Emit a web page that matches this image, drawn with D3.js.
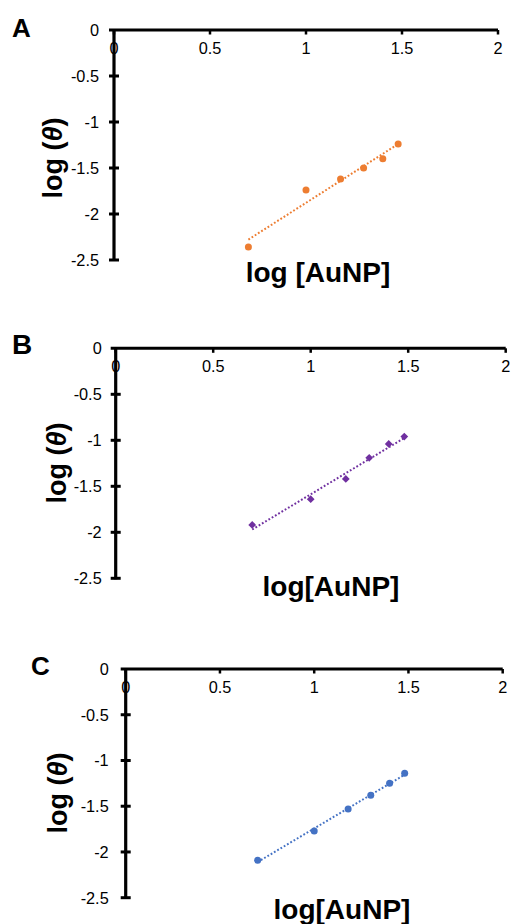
<!DOCTYPE html>
<html>
<head>
<meta charset="utf-8">
<script src="https://cdn.jsdelivr.net/npm/d3@7/dist/d3.min.js"></script>
<style>
  body { margin: 0; background: #fff; }
  svg { display: block; font-family: "Liberation Sans", Arial, sans-serif; }
</style>
</head>
<body>
<svg width="511" height="924"></svg>
<script>
// data
const logAuNP = [0.70, 1.00, 1.18, 1.30, 1.40, 1.48];
const thetaA = [-2.36, -1.74, -1.62, -1.50, -1.40, -1.24];
const thetaB = [-1.92, -1.64, -1.42, -1.19, -1.04, -0.96];
const thetaC = [-2.09, -1.77, -1.53, -1.38, -1.25, -1.14];
const xTicks = [0, 0.5, 1, 1.5, 2];
const yTicks = [0, -0.5, -1, -1.5, -2, -2.5];

const svg = d3.select("svg");

// layout of the three panels
const panels = [
    { id: "A", ys: thetaA, color: "#ED7D31", marker: "circle", xTitle: "log [AuNP]",
      x0: 114, x1: 498, y0: 30, y1: 260, labX: 12, labY: 37, labSize: 26,
      yTitleX: 53, yTitleY: 158, xTitleX: 318, xTitleY: 282, yLabGap: 15 },
    { id: "B", ys: thetaB, color: "#7030A0", marker: "diamond", xTitle: "log[AuNP]",
      x0: 115.7, x1: 505.7, y0: 348.3, y1: 578.3, labX: 12, labY: 354, labSize: 28,
      yTitleX: 57, yTitleY: 463, xTitleX: 331, xTitleY: 596, yLabGap: 14 },
    { id: "C", ys: thetaC, color: "#4472C4", marker: "circle", xTitle: "log[AuNP]",
      x0: 125.7, x1: 502.7, y0: 669, y1: 897.7, labX: 31, labY: 675, labSize: 26,
      yTitleX: 58, yTitleY: 793, xTitleX: 342, xTitleY: 919, yLabGap: 17 }
];

//least squares trend line
function fitLine(xs, ys) {
    const mx = d3.mean(xs), my = d3.mean(ys);
    let sxy = 0, sxx = 0;
    xs.forEach((x, i) => {
        sxy += (x - mx) * (ys[i] - my);
        sxx += (x - mx) * (x - mx);
    });
    const slope = sxy / sxx;
    return x => my + slope * (x - mx);
}

panels.forEach(p => drawPanel(p));

function drawPanel(p) {
    const g = svg.append("g").attr("id", `panel${p.id}`);
    const x = d3.scaleLinear().domain([0, 2]).range([p.x0, p.x1]);
    const y = d3.scaleLinear().domain([0, -2.5]).range([p.y0, p.y1]);

    // x axis along the top (y = 0)
    g.append("line")
        .attr("x1", p.x0 - 5).attr("x2", x(2))
        .attr("y1", p.y0).attr("y2", p.y0)
        .attr("stroke", "#000").attr("stroke-width", 3);
    g.selectAll(".xtick").data(xTicks).enter().append("line")
        .attr("class", "xtick")
        .attr("x1", d => x(d)).attr("x2", d => x(d))
        .attr("y1", p.y0).attr("y2", p.y0 + 4.5)
        .attr("stroke", "#000").attr("stroke-width", 2.5);
    g.selectAll(".xlab").data(xTicks).enter().append("text")
        .attr("class", "xlab")
        .attr("x", d => x(d)).attr("y", p.y0 + 24)
        .attr("text-anchor", "middle")
        .attr("font-size", 16.3)
        .text(d => d);

    // y axis
    g.append("line")
        .attr("x1", p.x0).attr("x2", p.x0)
        .attr("y1", p.y0).attr("y2", p.y1 + 1)
        .attr("stroke", "#000").attr("stroke-width", 3.2);
    g.selectAll(".ytick").data(yTicks.slice(1)).enter().append("line")
        .attr("class", "ytick")
        .attr("x1", p.x0 - 5).attr("x2", p.x0 + 5)
        .attr("y1", d => y(d)).attr("y2", d => y(d))
        .attr("stroke", "#000").attr("stroke-width", 3);
    g.selectAll(".ylab").data(yTicks).enter().append("text")
        .attr("class", "ylab")
        .attr("x", p.x0 - p.yLabGap).attr("y", d => y(d))
        .attr("dy", "0.36em")
        .attr("text-anchor", "end")
        .attr("font-size", 16.3)
        .text(d => d);

    // dotted trend line
    const f = fitLine(logAuNP, p.ys);
    const xExt = d3.extent(logAuNP);
    g.append("line")
        .attr("x1", x(xExt[0])).attr("y1", y(f(xExt[0])))
        .attr("x2", x(xExt[1])).attr("y2", y(f(xExt[1])))
        .attr("stroke", p.color)
        .attr("stroke-width", 2)
        .attr("stroke-dasharray", "1.8 2");

    // markers
    const pts = logAuNP.map((v, i) => [v, p.ys[i]]);
    if (p.marker === "circle") {
        g.selectAll(".pt").data(pts).enter().append("circle")
            .attr("class", "pt")
            .attr("cx", d => x(d[0])).attr("cy", d => y(d[1]))
            .attr("r", 3.5)
            .attr("fill", p.color);
    } else {
        const sym = d3.symbol().type(d3.symbolSquare).size(30);
        g.selectAll(".pt").data(pts).enter().append("path")
            .attr("class", "pt")
            .attr("d", sym)
            .attr("transform", d => `translate(${x(d[0])},${y(d[1])}) rotate(45)`)
            .attr("fill", p.color);
    }

    // titles
    const yt = g.append("text")
        .attr("transform", `translate(${p.yTitleX},${p.yTitleY}) rotate(-90)`)
        .attr("text-anchor", "middle")
        .attr("dy", "0.35em")
        .attr("font-size", 27)
        .attr("font-weight", "bold");
    yt.append("tspan").text("log (");
    yt.append("tspan").attr("font-style", "italic").text("θ");
    yt.append("tspan").text(")");

    g.append("text")
        .attr("x", p.xTitleX).attr("y", p.xTitleY)
        .attr("text-anchor", "middle")
        .attr("font-size", 28)
        .attr("font-weight", "bold")
        .text(p.xTitle);

    g.append("text")
        .attr("x", p.labX).attr("y", p.labY)
        .attr("font-size", p.labSize)
        .attr("font-weight", "bold")
        .text(p.id);
}
</script>
</body>
</html>
